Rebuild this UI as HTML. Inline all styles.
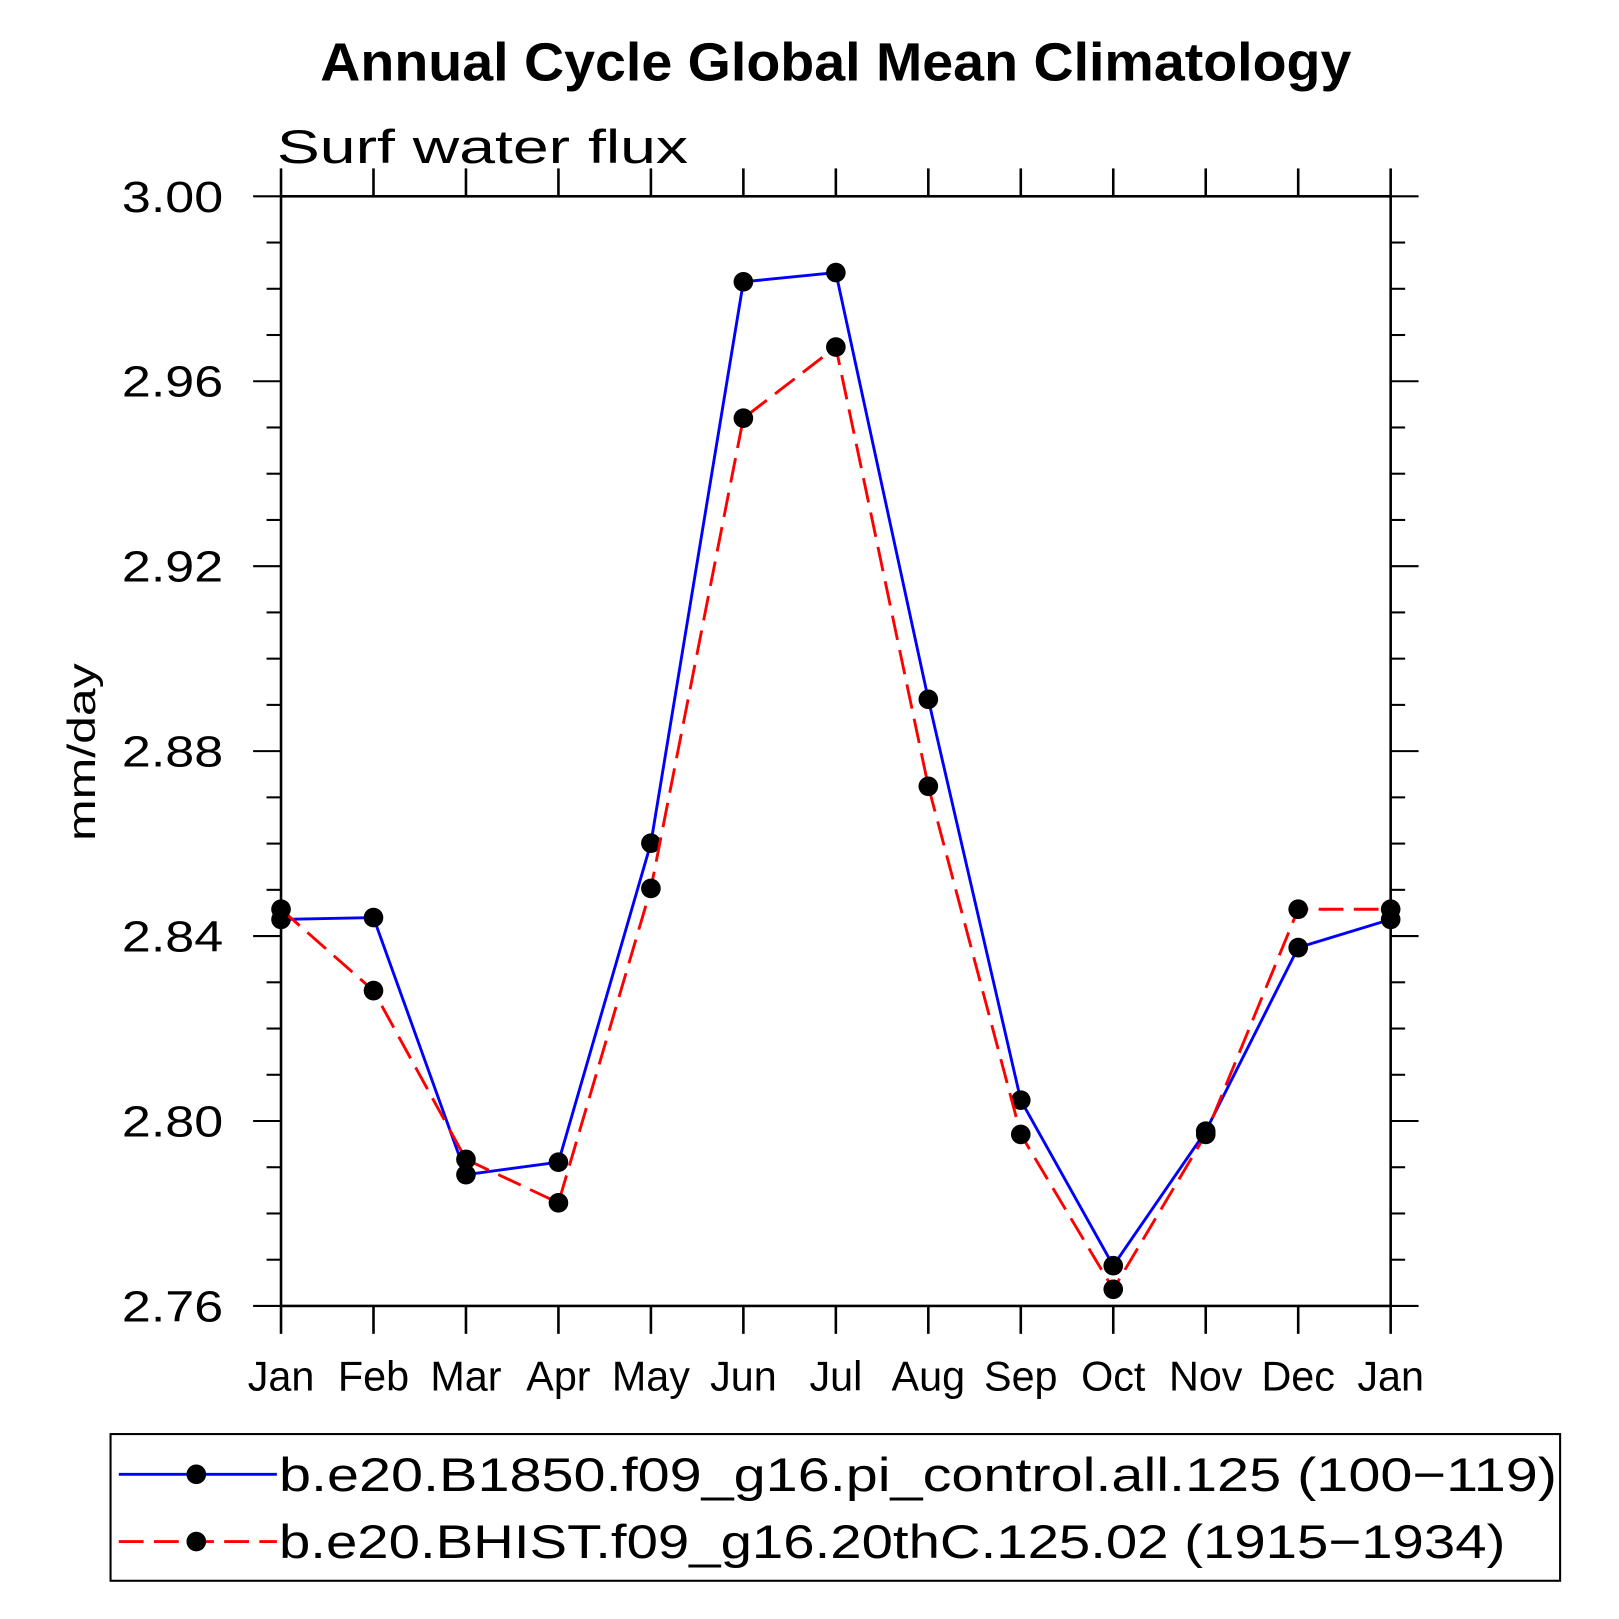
<!DOCTYPE html>
<html><head><meta charset="utf-8"><style>html,body{margin:0;padding:0;background:#fff}svg{display:block}text{font-family:"Liberation Sans",sans-serif}</style></head>
<body>
<svg id="chart" width="1619" height="1619" viewBox="0 0 1567 1567" xmlns="http://www.w3.org/2000/svg">
<rect width="1567" height="1567" fill="#fff"/>
<text x="809" y="78" text-anchor="middle" font-size="52" font-weight="bold" textLength="998" lengthAdjust="spacingAndGlyphs">Annual Cycle Global Mean Climatology</text>
<text x="268" y="158" font-size="46" textLength="398" lengthAdjust="spacingAndGlyphs">Surf water flux</text>
<text transform="translate(92,728) rotate(-90)" text-anchor="middle" font-size="38" textLength="172" lengthAdjust="spacingAndGlyphs">mm/day</text>
<g id="axes"></g>
<g id="series"></g>
<g>
<rect x="107" y="1388" width="1403" height="142" fill="none" stroke="#000" stroke-width="2"/>
<line x1="115" y1="1427" x2="268" y2="1427" stroke="#00f" stroke-width="2.8"/>
<circle cx="190" cy="1427" r="9.5"/>
<text x="270" y="1443" font-size="46" textLength="1237" lengthAdjust="spacingAndGlyphs">b.e20.B1850.f09_g16.pi_control.all.125 (100−119)</text>
<line x1="115" y1="1492" x2="268" y2="1492" stroke="#f00" stroke-width="2.8" stroke-dasharray="24,10"/>
<circle cx="190" cy="1492" r="9.5"/>
<text x="270" y="1508" font-size="46" textLength="1187" lengthAdjust="spacingAndGlyphs">b.e20.BHIST.f09_g16.20thC.125.02 (1915−1934)</text>
</g>
</svg>
<script>
const months = ["Jan","Feb","Mar","Apr","May","Jun","Jul","Aug","Sep","Oct","Nov","Dec","Jan"];
const controlValues = [2.8436,2.8440,2.7884,2.7911,2.8601,2.9815,2.9835,2.8912,2.8045,2.7687,2.7978,2.8375,2.8436];
const histValues = [2.8458,2.8282,2.7917,2.7823,2.8503,2.9520,2.9674,2.8724,2.7971,2.7636,2.7971,2.8458,2.8458];
const yTicks = [2.76,2.80,2.84,2.88,2.92,2.96,3.00];
const yTickLabels = ["2.76","2.80","2.84","2.88","2.92","2.96","3.00"];

const NS="http://www.w3.org/2000/svg";
const X0=272,X1=1346,Y0=1264,Y1=190,YMIN=2.76,YMAX=3.00;
const xs=i=>X0+(X1-X0)*i/(months.length-1);
const ys=v=>Y0-(v-YMIN)/(YMAX-YMIN)*(Y0-Y1);
function mk(tag,attrs,parent){const e=document.createElementNS(NS,tag);for(const k in attrs)e.setAttribute(k,attrs[k]);parent.appendChild(e);return e;}
const axes=document.getElementById('axes'),series=document.getElementById('series');
const frame=mk('rect',{x:X0,y:Y1,width:X1-X0,height:Y0-Y1,fill:'none',stroke:'#000','stroke-width':2.5},axes);


months.forEach((m,i)=>{
  const x=xs(i);
  const t1=mk('line',{x1:x,y1:Y0,x2:x,y2:Y0+27,stroke:'#000','stroke-width':2.5},axes);
  
  
  const t2=mk('line',{x1:x,y1:Y1,x2:x,y2:Y1-27,stroke:'#000','stroke-width':2.5},axes);
  
  
  const lb=mk('text',{x:x,y:1346,'text-anchor':'middle','font-size':40},axes);
  lb.textContent=m;
  
  
});
for(let k=0;k<=24;k++){
  const v=YMIN+k*0.01,y=ys(v),major=k%4===0,len=major?27:14;
  const a=mk('line',{x1:X0-len,y1:y,x2:X0,y2:y,stroke:'#000','stroke-width':2},axes);
  
  
  const b=mk('line',{x1:X1,y1:y,x2:X1+len,y2:y,stroke:'#000','stroke-width':2},axes);
  
  
}
yTicks.forEach((v,i)=>{
  const lb=mk('text',{x:216,y:ys(v)+15,'text-anchor':'end','font-size':42,textLength:98,lengthAdjust:'spacingAndGlyphs'},axes);
  lb.textContent=yTickLabels[i];
  
  
});
function draw(vals,color,dash,name){
  const pts=vals.map((v,i)=>xs(i)+','+ys(v)).join(' ');
  const attrs={points:pts,fill:'none',stroke:color,'stroke-width':2.8};
  if(dash)attrs['stroke-dasharray']=dash;
  const pl=mk('polyline',attrs,series);
  
  
  vals.forEach((v,i)=>{
    const c=mk('circle',{cx:xs(i),cy:ys(v),r:9.5,fill:'#000'},series);
    
    
  });
}
draw(controlValues,'#00f',null,'control');
draw(histValues,'#f00','24,10','hist');
</script>
</body></html>
